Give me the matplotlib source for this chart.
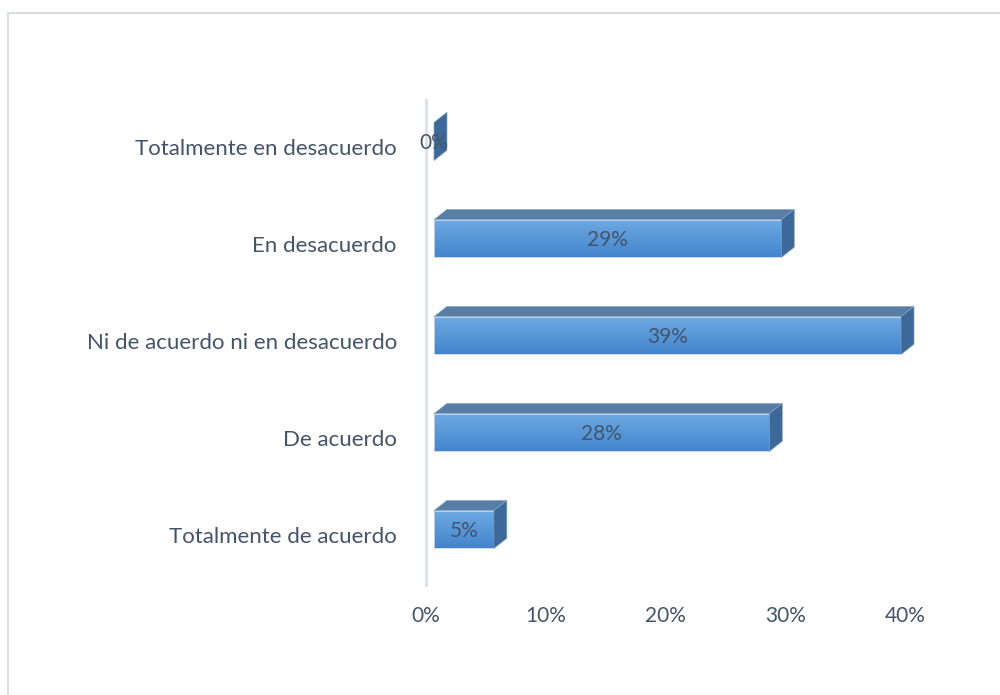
import numpy as np
import matplotlib
matplotlib.use('Agg')
import matplotlib.pyplot as plt
from matplotlib.patches import Polygon, Rectangle
from matplotlib.colors import LinearSegmentedColormap

plt.rcParams['font.family'] = ['Lato', 'DejaVu Sans']

categories = ['Totalmente en desacuerdo', 'En desacuerdo',
              'Ni de acuerdo ni en desacuerdo', 'De acuerdo',
              'Totalmente de acuerdo']
values = [0, 29, 39, 28, 5]
ticks = [0, 10, 20, 30, 40]
tick_labels = ['0%', '10%', '20%', '30%', '40%']

text_col = '#44546a'
front_grad = LinearSegmentedColormap.from_list('front', ['#4384cc', '#6eaae3'])
top_col = '#587ea6'
side_col = '#3c6997'

fig = plt.figure(figsize=(10, 6.95), dpi=100)
ax = fig.add_axes([0.426, 0.1583, 0.479, 0.6978])

# 3d look: offsets in data units (x in %, y in category units)
x0 = 0.67      # front face starts a bit right of the wall
dx = 1.08      # depth to the right
dy = 0.105     # depth upwards
h = 0.39       # front face height
shift = 0.072  # front face sits a bit above the category centre

n = len(categories)
ypos = np.arange(n)[::-1]

grad = np.linspace(0, 1, 64).reshape(-1, 1)

for y, v in zip(ypos, values):
    yb = y + shift - h / 2
    yt = y + shift + h / 2
    xr = x0 + v
    # front face with vertical gradient
    rect = Rectangle((x0, yb), v, h, facecolor='none', edgecolor='#c6d8ec',
                     linewidth=0.6, zorder=3)
    ax.add_patch(rect)
    if v > 0:
        im = ax.imshow(grad, extent=(x0, xr, yb, yt), origin='lower',
                       cmap=front_grad, aspect='auto', zorder=2)
        im.set_clip_path(rect)
    # top face
    top = Polygon([(x0, yt), (xr, yt), (xr + dx, yt + dy), (x0 + dx, yt + dy)],
                  closed=True, facecolor=top_col, edgecolor='#8fa9c6',
                  linewidth=0.5, zorder=3, clip_on=False)
    ax.add_patch(top)
    # side face
    side = Polygon([(xr, yb), (xr + dx, yb + dy), (xr + dx, yt + dy), (xr, yt)],
                   closed=True, facecolor=side_col, edgecolor='#7f9cbd',
                   linewidth=0.5, zorder=3, clip_on=False)
    ax.add_patch(side)
    ax.text(x0 + v / 2, y + shift - 0.02, f'{v}%', ha='center', va='center',
            fontsize=15, color=text_col, zorder=5)

ax.set_xlim(0, 40)
ax.set_ylim(-0.5, n - 0.5)
ax.set_xticks(ticks)
ax.set_xticklabels(tick_labels)
ax.set_yticks(ypos + 0.02)
ax.set_yticklabels(categories)
ax.tick_params(axis='both', length=0, labelcolor=text_col)
ax.tick_params(axis='x', pad=15, labelsize=15)
ax.tick_params(axis='y', pad=21, labelsize=16)

for s in ['top', 'right', 'bottom']:
    ax.spines[s].set_visible(False)
ax.spines['left'].set_color('#dce2ea')
ax.spines['left'].set_linewidth(2.2)

# outer frame
fig.patches.append(Rectangle((0.008, -0.2), 1.2, 1.1813, transform=fig.transFigure,
                             fill=False, edgecolor='#d9dee5', linewidth=1.5))

fig.savefig('out.png', dpi=100)
